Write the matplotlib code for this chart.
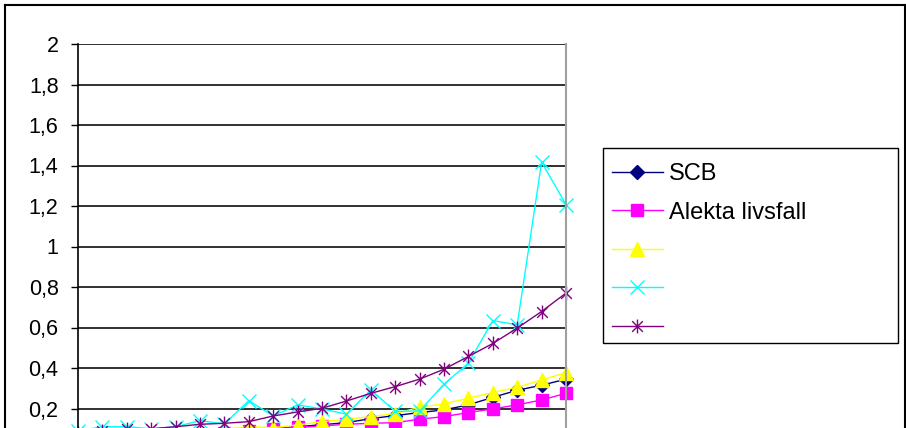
import matplotlib.pyplot as plt
from matplotlib.lines import Line2D
from matplotlib.patches import Rectangle
from matplotlib.path import Path

plt.rcParams['font.family'] = ['Liberation Sans', 'DejaVu Sans']

# 21 points along the category axis
positions = list(range(21))

scb = [0.05, 0.05, 0.06, 0.06, 0.07, 0.07, 0.08, 0.09, 0.10, 0.11, 0.12,
       0.13, 0.15, 0.165, 0.18, 0.193, 0.218, 0.255, 0.29, 0.315, 0.345]
alekta = [0.04, 0.04, 0.05, 0.05, 0.06, 0.07, 0.08, 0.09, 0.10, 0.107, 0.114,
          0.122, 0.127, 0.13, 0.147, 0.16, 0.18, 0.198, 0.218, 0.242, 0.275]
serie3 = [0.05, 0.05, 0.06, 0.07, 0.08, 0.09, 0.10, 0.11, 0.105, 0.119, 0.135,
          0.147, 0.16, 0.175, 0.206, 0.223, 0.251, 0.279, 0.305, 0.341, 0.377]
serie4 = [0.09, 0.11, 0.11, 0.10, 0.11, 0.14, 0.124, 0.239, 0.163, 0.218, 0.198,
          0.172, 0.292, 0.186, 0.188, 0.32, 0.424, 0.634, 0.613, 1.416, 1.207]
serie5 = [0.08, 0.09, 0.10, 0.10, 0.11, 0.122, 0.127, 0.135, 0.163, 0.183, 0.201,
          0.237, 0.275, 0.308, 0.345, 0.394, 0.457, 0.521, 0.597, 0.679, 0.77]

labels = ['SCB', 'Alekta livsfall', ' ', ' ', ' ']
yticks = [0.2, 0.4, 0.6, 0.8, 1.0, 1.2, 1.4, 1.6, 1.8, 2.0]
ytick_labels = ['0,2', '0,4', '0,6', '0,8', '1', '1,2', '1,4', '1,6', '1,8', '2']

# asterisk: an x with a vertical bar through it
star = Path([(-1, -1), (1, 1), (-1, 1), (1, -1), (0, -1.3), (0, 1.3)],
            [Path.MOVETO, Path.LINETO, Path.MOVETO, Path.LINETO, Path.MOVETO, Path.LINETO])

W, H = 906, 428
fig = plt.figure(figsize=(W / 100, H / 100), dpi=100)

# plot area runs past the bottom edge of the image
left, right, top, bottom = 78, 566, 44, 449
ax = fig.add_axes([left / W, (H - bottom) / H, (right - left) / W, (bottom - top) / H])

series = [
    (scb, '#000080', 'D', 7),
    (alekta, '#FF00FF', 's', 9),
    (serie3, '#FFFF00', '^', 10),
    (serie4, '#00FFFF', 'x', 10),
    (serie5, '#800080', star, 10),
]
handles = []
for vals, c, m, ms in series:
    h, = ax.plot(positions, vals, color=c, lw=1.0, marker=m, ms=ms,
                 markerfacecolor=c, markeredgecolor=c, markeredgewidth=1.0,
                 clip_on=False)
    handles.append(h)

ax.set_xlim(0, 20)
ax.set_ylim(0, 2)
ax.set_yticks(yticks)
ax.set_yticklabels(ytick_labels)
ax.set_xticks([])
ax.yaxis.grid(True, color='#202020', lw=1.3)
ax.set_axisbelow(True)
ax.tick_params(axis='y', length=5, width=1, pad=9, labelsize=15.5, colors='black')
for s in ['top', 'bottom']:
    ax.spines[s].set_visible(False)
ax.spines['left'].set_color('black')
ax.spines['left'].set_linewidth(1.2)
ax.spines['right'].set_color('#a0a0a0')
ax.spines['right'].set_linewidth(1.5)

# legend box drawn separately so its size is fixed
fig.add_artist(Rectangle((603 / W, 1 - 343 / H), (898 - 603) / W, (343 - 148) / H,
                         transform=fig.transFigure, facecolor='white',
                         edgecolor='black', lw=1.0, zorder=4))
leg = fig.legend(handles, labels, loc='upper left',
                 bbox_to_anchor=(612 / W, 1 - 163 / H), borderaxespad=0,
                 fontsize=17, handlelength=2.15, handletextpad=0.25,
                 labelspacing=0.7, borderpad=0, frameon=False)
leg.set_zorder(5)

# chart border (open at the bottom)
for xs, ys in [([5 / W, 5 / W], [0, 1 - 5 / H]),
               ([5 / W, 905 / W], [1 - 5 / H, 1 - 5 / H]),
               ([905 / W, 905 / W], [1 - 5 / H, 0])]:
    fig.add_artist(Line2D(xs, ys, color='black', lw=1.5, transform=fig.transFigure))

fig.savefig('out.png', dpi=100)
